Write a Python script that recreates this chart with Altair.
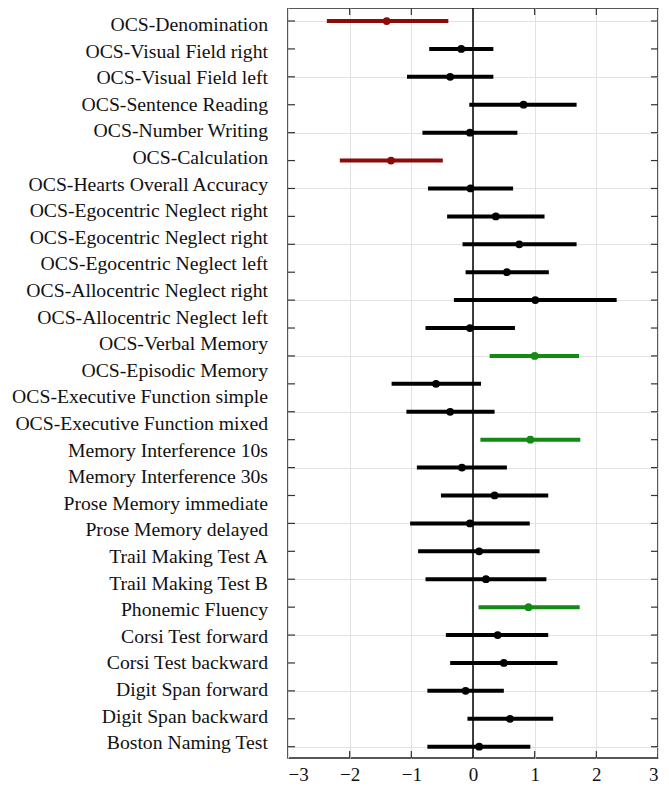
import altair as alt
import pandas as pd

labels = [
    "OCS-Denomination", "OCS-Visual Field right", "OCS-Visual Field left",
    "OCS-Sentence Reading", "OCS-Number Writing", "OCS-Calculation",
    "OCS-Hearts Overall Accuracy", "OCS-Egocentric Neglect right",
    "OCS-Egocentric Neglect right", "OCS-Egocentric Neglect left",
    "OCS-Allocentric Neglect right", "OCS-Allocentric Neglect left",
    "OCS-Verbal Memory", "OCS-Episodic Memory", "OCS-Executive Function simple",
    "OCS-Executive Function mixed", "Memory Interference 10s",
    "Memory Interference 30s", "Prose Memory immediate", "Prose Memory delayed",
    "Trail Making Test A", "Trail Making Test B", "Phonemic Fluency",
    "Corsi Test forward", "Corsi Test backward", "Digit Span forward",
    "Digit Span backward", "Boston Naming Test",
]

row_lo = [-2.37, -0.71, -1.07, -0.06, -0.82, -2.16, -0.73, -0.42, -0.17, -0.12,
          -0.31, -0.77, 0.27, -1.32, -1.08, 0.12, -0.91, -0.52, -1.02, -0.89,
          -0.77, 0.09, -0.44, -0.37, -0.74, -0.09, -0.74]
row_est = [-1.40, -0.19, -0.37, 0.82, -0.05, -1.33, -0.04, 0.37, 0.75, 0.55,
           1.01, -0.05, 1.00, -0.60, -0.37, 0.93, -0.18, 0.35, -0.05, 0.10,
           0.21, 0.90, 0.40, 0.50, -0.12, 0.60, 0.10]
row_hi = [-0.40, 0.33, 0.33, 1.68, 0.72, -0.49, 0.65, 1.16, 1.68, 1.23,
          2.33, 0.68, 1.72, 0.13, 0.35, 1.74, 0.55, 1.22, 0.92, 1.08,
          1.19, 1.73, 1.22, 1.37, 0.50, 1.30, 0.93]
row_group = ["neg", "ns", "ns", "ns", "ns", "neg", "ns", "ns", "ns", "ns",
             "ns", "ns", "pos", "ns", "ns", "pos", "ns", "ns", "ns", "ns",
             "ns", "pos", "ns", "ns", "ns", "ns", "ns"]
x_ticks = [-3, -2, -1, 0, 1, 2, 3]
inner_ticks = [-2, -1, 1, 2]

n = len(row_est)
rows = list(range(1, n + 1))
df = pd.DataFrame({"row": rows, "lo": row_lo, "est": row_est, "hi": row_hi,
                   "group": row_group})
lab_df = pd.DataFrame({"idx": list(range(1, len(labels) + 1)), "label": labels})
tick_df = pd.DataFrame({"v": inner_ticks})
zero_df = pd.DataFrame({"v": [0]})

W, H = 370, 750
FONT = "Liberation Serif"
GRID = "#e2e2e2"

xs = alt.Scale(domain=[-3, 3], nice=False, zero=False)
ys = alt.Scale(domain=[0.534, 27.405], reverse=True, nice=False, zero=False)
cs = alt.Scale(domain=["neg", "ns", "pos"], range=["#8b0a0a", "#000000", "#138a13"])

x_axis = alt.Axis(values=x_ticks, grid=True, gridColor=GRID, ticks=False,
                  domain=False, labelFont=FONT, labelFontSize=19,
                  labelColor="#111111", labelPadding=7, title=None, format="d")
y_axis = alt.Axis(values=rows, grid=True, gridColor=GRID, ticks=False,
                  labels=False, domain=False, title=None)

zero = alt.Chart(zero_df).mark_rule(color="#000000", strokeWidth=1.5).encode(
    x=alt.X("v:Q", scale=xs, axis=x_axis))

ci = alt.Chart(df).mark_rule(strokeWidth=4).encode(
    x=alt.X("lo:Q", scale=xs),
    x2="hi:Q",
    y=alt.Y("row:Q", scale=ys, axis=y_axis),
    color=alt.Color("group:N", scale=cs, legend=None),
)
pts = alt.Chart(df).mark_point(filled=True, size=60, opacity=1).encode(
    x=alt.X("est:Q", scale=xs),
    y=alt.Y("row:Q", scale=ys),
    color=alt.Color("group:N", scale=cs, legend=None),
)

tick_style = dict(color="#333333", strokeWidth=1.2)
lt = alt.Chart(df).mark_rule(**tick_style).encode(
    x=alt.value(0), x2=alt.value(7), y=alt.Y("row:Q", scale=ys))
rt = alt.Chart(df).mark_rule(**tick_style).encode(
    x=alt.value(W - 7), x2=alt.value(W), y=alt.Y("row:Q", scale=ys))
tt = alt.Chart(tick_df).mark_rule(**tick_style).encode(
    x=alt.X("v:Q", scale=xs), y=alt.value(0), y2=alt.value(7))
bt = alt.Chart(tick_df).mark_rule(**tick_style).encode(
    x=alt.X("v:Q", scale=xs), y=alt.value(H - 7), y2=alt.value(H))

data_layers = alt.layer(zero, lt, rt, tt, bt, ci, pts)

lab = alt.Chart(lab_df).mark_text(
    align="right", baseline="middle", font=FONT, fontSize=19.7, color="#111111"
).encode(
    x=alt.value(-20),
    y=alt.Y("idx:Q", scale=alt.Scale(domain=[0.361, 28.553], reverse=True,
                                      nice=False, zero=False), axis=None),
    text="label:N",
)

chart = alt.layer(data_layers, lab).resolve_scale(y="independent").properties(
    width=W, height=H,
    autosize=alt.AutoSizeParams(type="none"),
    padding={"left": 280, "top": 0, "right": 3, "bottom": 25},
).configure_view(stroke="#222222", strokeWidth=1.5)

chart.save("out.html", embed_options={"renderer": "svg", "actions": False})
